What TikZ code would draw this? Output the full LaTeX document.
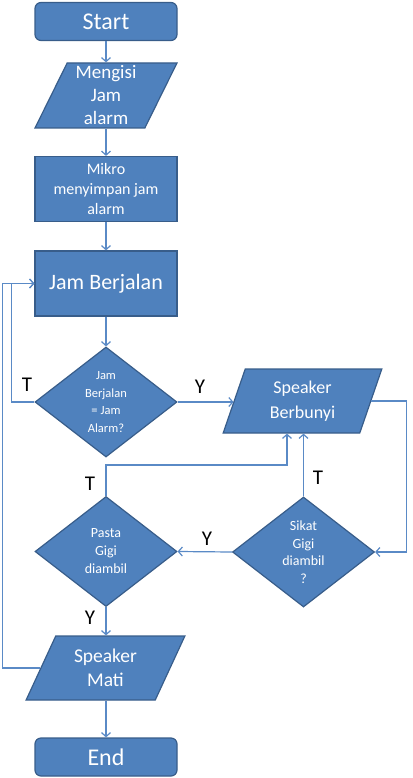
\documentclass[tikz,border=0pt]{standalone}
\usepackage{fontspec}
\setmainfont{Carlito}
\usetikzlibrary{shapes.geometric,arrows.meta}
\definecolor{isian}{HTML}{4F81BD}
\definecolor{tepi}{HTML}{385D8A}
\definecolor{panah}{HTML}{5A8AC6}

\begin{document}
\begin{tikzpicture}[x=1pt,y=-1pt,
  kotak/.style={draw=tepi,fill=isian,line width=1.2pt,text=white,align=center,inner sep=1pt},
  terminal/.style={kotak,rounded corners=6pt,minimum width=142pt,minimum height=38pt,font=\fontsize{24}{28}\selectfont},
  proses/.style={kotak,minimum width=142pt,minimum height=65pt},
  io/.style={kotak,trapezium,trapezium stretches=true,minimum height=64pt},
  keputusan/.style={kotak,diamond,aspect=1.3,inner sep=0pt,minimum width=142pt,minimum height=110pt},
  alur/.style={draw=panah,line width=1.2pt,-{Straight Barb[length=4pt,width=9pt]}},
  ket/.style={font=\fontsize{21}{24}\selectfont,text=black}]
\useasboundingbox (0,0) rectangle (412,778);

\node[terminal] (mulai) at (106,21.5) {Start};
\node[io,trapezium left angle=67,trapezium right angle=113,minimum width=142pt,minimum height=65pt,
  font=\fontsize{19}{23}\selectfont] (isi) at (106,95.5) {Mengisi\\Jam\\alarm};
\node[proses,font=\fontsize{16}{20}\selectfont] (simpan) at (106,189) {Mikro\\menyimpan jam\\alarm};
\node[proses,font=\fontsize{22}{26}\selectfont] (jalan) at (106,283.5) {Jam Berjalan};
\node[keputusan,font=\fontsize{12.5}{17.5}\selectfont] (cek) at (106,402) {Jam\\Berjalan\\= Jam\\Alarm?};
\node[io,trapezium left angle=73,trapezium right angle=107,minimum width=159pt,
  font=\fontsize{18}{25}\selectfont] (bunyi) at (302.5,401) {Speaker\\Berbunyi};
\node[keputusan,font=\fontsize{14}{17.5}\selectfont] (sikat) at (303.5,552) {Sikat\\Gigi\\diambil\\?};
\node[keputusan,font=\fontsize{14}{18}\selectfont] (pasta) at (106,551.5) {Pasta\\Gigi\\diambil};
\node[io,trapezium left angle=64,trapezium right angle=116,minimum width=159pt,
  font=\fontsize{19.5}{24}\selectfont] (mati) at (105.5,668) {Speaker\\Mati};
\node[terminal] (selesai) at (106,757) {End};

% alur utama
\draw[alur] (mulai) -- (mulai |- isi.north);
\draw[alur] (mulai |- isi.south) -- (simpan);
\draw[alur] (simpan) -- (jalan);
\draw[alur] (jalan) -- (cek);
\draw[alur] (cek.east) -- (cek.east -| bunyi.west);
\draw[alur] (bunyi.east) -- ++(35,0) |- (sikat.east);
\draw[alur] (sikat.north) -- (sikat.north |- bunyi.south);
\draw[alur] (sikat.west) -- (pasta.east);
\coordinate (belok) at (287,465);
\draw[alur] (pasta.north) |- (belok) -- (belok |- bunyi.south);
\draw[alur] (pasta.south) -- (pasta.south |- mati.north);
\draw[alur] (pasta.south |- mati.south) -- (selesai);
% kembali ke jam berjalan
\draw[alur] (cek.west) -| ([xshift=-23pt]jalan.west) -- (jalan.west);
\draw[alur] (mati.west) -| ([xshift=-32pt]jalan.west) -- (jalan.west);

\node[ket] (tcek) at (27,385) {T};
\node[ket] (ycek) at (200,387) {Y};
\node[ket] (tsikat) at (318,478) {T};
\node[ket] (ysikat) at (207,539) {Y};
\node[ket] (tpasta) at (90,484) {T};
\node[ket] (ypasta) at (90,618) {Y};
\end{tikzpicture}
\end{document}
